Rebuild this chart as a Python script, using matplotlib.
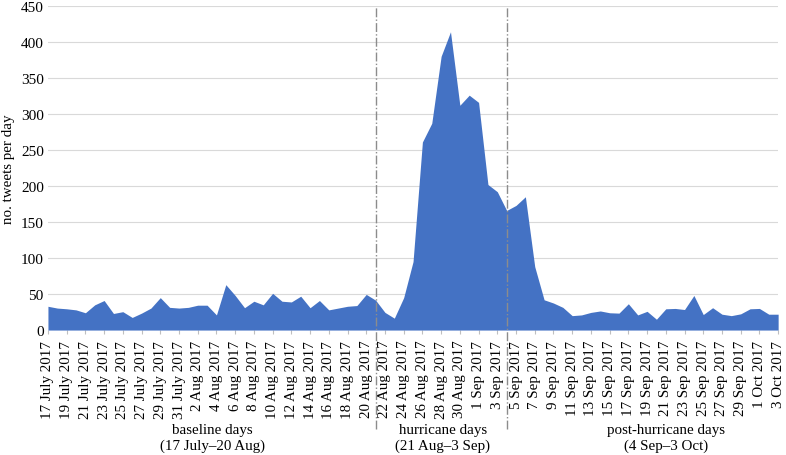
import matplotlib
matplotlib.use("Agg")
import matplotlib.pyplot as plt
import matplotlib.transforms as mtransforms
import numpy as np

plt.rcParams["font.family"] = ["Liberation Serif", "DejaVu Serif"]

# daily tweet counts, 17 July 2017 -> 3 Oct 2017
tweets = [
    33, 30.5, 29.5, 28, 24, 35, 41, 23, 25.5, 17.5,
    23.5, 30.5, 45, 31.5, 30.5, 31.5, 34.5, 34.5, 21, 63,
    48, 31, 40, 35, 51, 40, 39, 47, 31, 41,
    28, 30.5, 33, 34, 49.5, 41.5, 24.5, 16.5, 45, 95,
    261, 287, 380, 414, 312, 326, 316, 202, 192, 166,
    173, 185, 88, 42, 37.5, 31.5, 20, 21, 24.5, 26.5,
    24, 23.5, 36.5, 21, 26, 15, 29.5, 30, 28.5, 48,
    21.5, 31, 22, 20, 22.5, 29.5, 30, 22, 22,
]

tick_labels = (
    [f"{d} July 2017" for d in [17, 19, 21, 23, 25, 27, 29, 31]]
    + [f"{d} Aug 2017" for d in [2, 4, 6, 8, 10, 12, 14, 16, 18, 20, 22, 24, 26, 28, 30]]
    + [f"{d} Sep 2017" for d in [1, 3, 5, 7, 9, 11, 13, 15, 17, 19, 21, 23, 25, 27, 29]]
    + [f"{d} Oct 2017" for d in [1, 3]]
)

# period boundaries (day index) and labels
boundaries = [35, 49]  # 21 Aug, 4 Sep
periods = ["baseline days\n(17 July\u201320 Aug)",
           "hurricane days\n(21 Aug\u20133 Sep)",
           "post-hurricane days\n(4 Sep\u20133 Oct)"]
period_centers = [17.6, 42.2, 66.0]

days = np.arange(len(tweets))

fig = plt.figure(figsize=(7.86, 4.56), dpi=100)
ax = fig.add_axes([0.061, 0.274, 0.929, 0.711])

ax.fill_between(days, tweets, 0, color="#4472C4", linewidth=0, zorder=2)

ax.set_xlim(0, days[-1])
ax.set_ylim(0, 450)
ax.set_yticks(np.arange(0, 451, 50))
ax.yaxis.grid(True, color="#d9d9d9", linewidth=0.8, zorder=0)
ax.set_axisbelow(True)
for s in ax.spines.values():
    s.set_visible(False)

ax.set_xticks(days[::2])
ax.set_xticklabels(tick_labels, rotation=90, fontsize=10.8)
ax.tick_params(axis="x", length=3, color="#bfbfbf", pad=4)
ax.tick_params(axis="y", length=0, labelsize=11, pad=3)
ax.set_ylabel("no. tweets per day", fontsize=10.8, labelpad=4)

trans = mtransforms.blended_transform_factory(ax.transData, ax.transAxes)
for b in boundaries:
    ax.plot([b, b], [-0.305, 1.0], transform=trans, clip_on=False,
            color="#8c8c8c", linestyle="-.", linewidth=1.0, zorder=3)

for c, txt in zip(period_centers, periods):
    ax.text(c, -0.288, txt, transform=trans, ha="center", va="top",
            fontsize=10.8, linespacing=1.22)

fig.savefig("out.png", dpi=100)
